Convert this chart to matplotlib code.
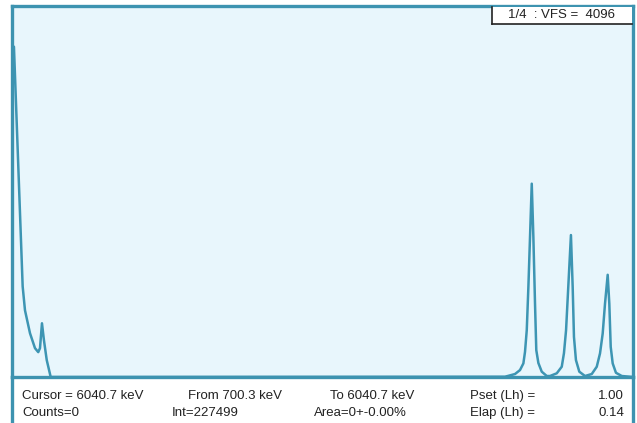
import matplotlib.pyplot as plt
from matplotlib.patches import Rectangle
from matplotlib.lines import Line2D

plt.rcParams['font.family'] = ['Liberation Sans', 'DejaVu Sans']

# spectrum points (energy in keV, counts)
energy = [705, 717, 792, 812, 855, 898, 926, 941, 958, 975, 999, 1033,
          4940, 5026, 5069, 5098, 5112, 5127, 5141, 5155, 5170, 5184, 5198, 5209, 5227, 5256, 5299, 5327,
          5385, 5428, 5447, 5465, 5484, 5507, 5522, 5533, 5550, 5579, 5628,
          5686, 5729, 5757, 5780, 5800, 5823, 5837, 5849, 5866, 5894, 5944, 6040]
counts = [3665, 3665, 1005, 740, 486, 320, 276, 320, 596, 408, 188, 0,
          3, 33, 77, 151, 279, 519, 997, 1549, 2145, 1549, 817, 298, 155, 59, 11, 11,
          41, 114, 265, 519, 997, 1575, 997, 445, 188, 59, 11,
          33, 114, 262, 482, 814, 1134, 814, 335, 151, 47, 11, 0]

e_from, e_to = 700.3, 6040.7
vfs = 4096

row1 = ["Cursor = 6040.7 keV", "From 700.3 keV", "To 6040.7 keV", "Pset (Lh) =", "1.00"]
row2 = ["Counts=0", "Int=227499", "Area=0+-0.00%", "Elap (Lh) =", "0.14"]

frame_col = '#3d93b0'
txt_col = '#222222'
W, H = 637, 423
fig = plt.figure(figsize=(W / 100, H / 100), dpi=100)

# main spectrum area
ax = fig.add_axes([12 / W, (H - 377) / H, 621 / W, 371 / H])
ax.set_facecolor('#e8f6fc')
ax.plot(energy, counts, color='#3d95b3', lw=1.8)
ax.set_xlim(e_from, e_to)
ax.set_ylim(0, vfs * 1.005)
ax.set_xticks([])
ax.set_yticks([])
for s in ax.spines.values():
    s.set_color(frame_col)
    s.set_linewidth(2.4)

# VFS box top right
box = Rectangle((492 / W, 1 - 24 / H), 140 / W, 17 / H, transform=fig.transFigure,
                facecolor='white', edgecolor='none', zorder=5)
fig.patches.append(box)
fig.add_artist(Line2D([492 / W, 492 / W], [1 - 24 / H, 1 - 7 / H], color=txt_col, lw=1.2,
                      transform=fig.transFigure, zorder=6))
fig.add_artist(Line2D([492 / W, 632 / W], [1 - 24 / H, 1 - 24 / H], color=txt_col, lw=1.2,
                      transform=fig.transFigure, zorder=6))
fig.text(561 / W, 1 - 15.5 / H, "1/4  : VFS =  " + str(vfs), ha='center', va='center',
         fontsize=9.5, color=txt_col, zorder=7)

# info panel frame
for xp in (11.5, 632.8):
    fig.add_artist(Line2D([xp / W, xp / W], [0, (H - 377) / H], color=frame_col, lw=2.4,
                          transform=fig.transFigure))

cols = [22, 188, 330, 470]
cols2 = [22, 172, 314, 470]
for i in range(4):
    fig.text(cols[i] / W, 1 - 396 / H, row1[i], ha='left', va='center', fontsize=9.5, color=txt_col)
    fig.text(cols2[i] / W, 1 - 413 / H, row2[i], ha='left', va='center', fontsize=9.5, color=txt_col)
fig.text(624 / W, 1 - 396 / H, row1[4], ha='right', va='center', fontsize=9.5, color=txt_col)
fig.text(624 / W, 1 - 413 / H, row2[4], ha='right', va='center', fontsize=9.5, color=txt_col)

fig.savefig('out.png', dpi=100)
